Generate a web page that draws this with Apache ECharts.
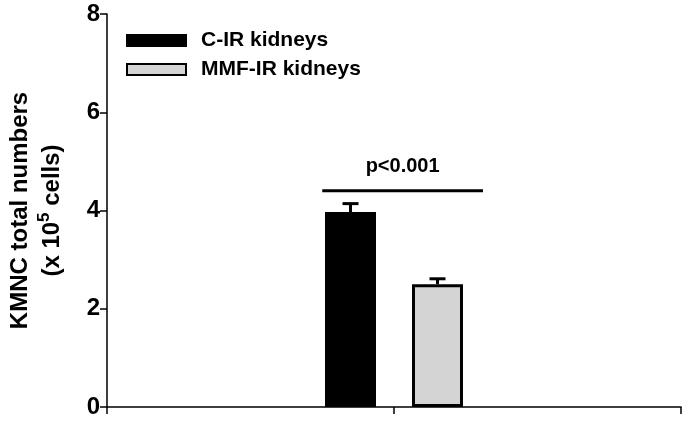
<!DOCTYPE html>
<html>
<head>
<meta charset="utf-8">
<script src="https://cdn.jsdelivr.net/npm/echarts@6/dist/echarts.min.js"></script>
<style>
  html, body { margin: 0; padding: 0; background: #fff; }
  #chart { width: 687px; height: 421px; }
</style>
</head>
<body>
<div id="chart"></div>
<script>
// group position on the x axis and the two series
const groupX = 1;
const seriesNames = ['C-IR kidneys', 'MMF-IR kidneys'];
const seriesColors = ['#000000', '#d4d4d4'];
const means = [3.97, 2.50];
const errors = [0.17, 0.11];
const yTicks = [0, 2, 4, 6, 8];
// significance bracket: x from, x to, height
const sigBracket = [0.75, 1.31, 4.4];
const sigText = 'p<0.001';

const FONT = 'Liberation Sans, Arial, sans-serif';
const BAR_W = 51;
const BAR_GAP = 36;

const chart = echarts.init(document.getElementById('chart'));

const barSeries = seriesNames.map((name, i) => ({
  name,
  type: 'bar',
  barWidth: BAR_W,
  barGap: (BAR_GAP / BAR_W * 100) + '%',
  itemStyle: { color: seriesColors[i], borderColor: '#000', borderWidth: 3 },
  data: [[groupX, means[i]]],
  z: 2
}));

const errSeries = {
  type: 'custom',
  silent: true,
  z: 3,
  data: means.map((m, i) => [groupX, m, errors[i], i]),
  renderItem(params, api) {
    const idx = api.value(3);
    const off = (idx === 0 ? -1 : 1) * (BAR_W + BAR_GAP) / 2;
    const base = api.coord([api.value(0), api.value(1)]);
    const top = api.coord([api.value(0), api.value(1) + api.value(2)]);
    const x = base[0] + off;
    const style = { stroke: '#000', lineWidth: 3 };
    return {
      type: 'group',
      children: [
        { type: 'line', shape: { x1: x, y1: base[1], x2: x, y2: top[1] }, style },
        { type: 'line', shape: { x1: x - 8, y1: top[1], x2: x + 8, y2: top[1] }, style }
      ]
    };
  }
};

const sigSeries = {
  type: 'custom',
  silent: true,
  z: 3,
  data: [sigBracket],
  renderItem(params, api) {
    const a = api.coord([api.value(0), api.value(2)]);
    const b = api.coord([api.value(1), api.value(2)]);
    return {
      type: 'group',
      children: [
        { type: 'line', shape: { x1: a[0], y1: a[1], x2: b[0], y2: b[1] }, style: { stroke: '#000', lineWidth: 3 } },
        {
          type: 'text',
          style: {
            text: sigText, x: (a[0] + b[0]) / 2, y: a[1] - 14,
            align: 'center', verticalAlign: 'bottom',
            font: 'bold 20px ' + FONT, fill: '#000'
          }
        }
      ]
    };
  }
};

const option = {
  animation: false,
  backgroundColor: '#fff',
  grid: { left: 107, right: 6, top: 14, bottom: 14 },
  legend: {
    data: seriesNames,
    orient: 'vertical',
    left: 126,
    top: 30,
    padding: 0,
    itemWidth: 59,
    itemHeight: 11,
    itemGap: 8,
    icon: 'rect',
    textStyle: { fontFamily: FONT, fontWeight: 'bold', fontSize: 21, color: '#000', padding: [0, 0, 0, 10] }
  },
  xAxis: {
    type: 'value',
    min: 0,
    max: 2,
    interval: 1,
    axisLine: { lineStyle: { color: '#000', width: 1.5 } },
    axisTick: { length: 7, lineStyle: { color: '#000', width: 1.5 } },
    axisLabel: { show: false },
    splitLine: { show: false }
  },
  yAxis: {
    type: 'value',
    min: yTicks[0],
    max: yTicks[yTicks.length - 1],
    interval: 2,
    name: '{t|KMNC total numbers}\n{t|(x 10}{s|5}{t| cells)}',
    nameLocation: 'middle',
    nameRotate: 90,
    nameGap: 39,
    nameTextStyle: {
      rich: {
        t: { fontFamily: FONT, fontWeight: 'bold', fontSize: 24, color: '#000', lineHeight: 32 },
        s: { fontFamily: FONT, fontWeight: 'bold', fontSize: 17, color: '#000', verticalAlign: 'top', lineHeight: 32, padding: [0, 0, 6, 0] }
      }
    },
    axisLine: { show: true, lineStyle: { color: '#000', width: 1.5 } },
    axisTick: { length: 7, lineStyle: { color: '#000', width: 1.5 } },
    axisLabel: { fontFamily: FONT, fontWeight: 'bold', fontSize: 24, color: '#000', margin: 7 },
    splitLine: { show: false }
  },
  series: [...barSeries, errSeries, sigSeries]
};

chart.setOption(option);
</script>
</body>
</html>
